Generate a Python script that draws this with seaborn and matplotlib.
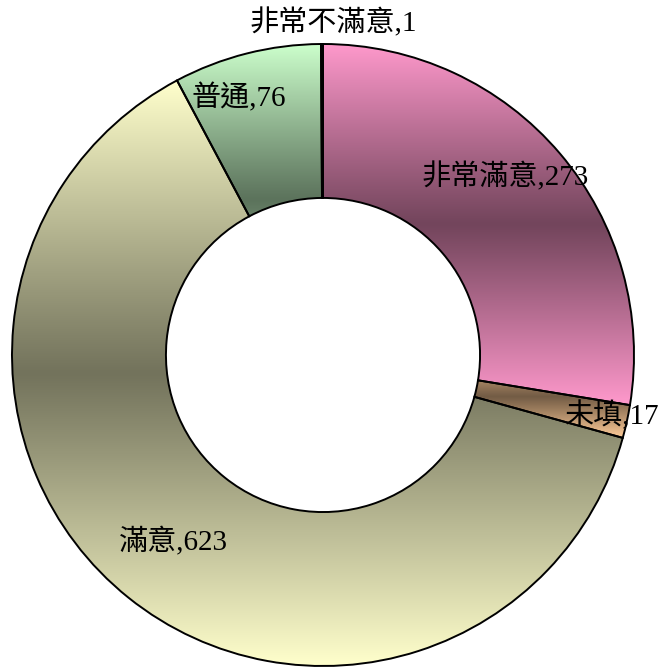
import numpy as np
import matplotlib
matplotlib.use("Agg")
import matplotlib.pyplot as plt
import seaborn as sns

# survey answers, clockwise from 12 o'clock
categories = ["非常滿意", "未填", "滿意", "普通", "非常不滿意"]
counts = [273, 17, 623, 76, 1]
base_colors = ["#ff99cc", "#ffcc99", "#ffffcc", "#ccffcc", "#ccffff"]

# where each label sits, as a fraction of the outer radius
label_radius = [0.82, 0.95, 0.77, 0.87, 1.07]
label_shift = [4.0, 0.5, 0.0, 4.0, -2.0]  # degrees, nudges along the ring

sns.set_theme(style="white")
plt.rcParams["font.family"] = ["Liberation Serif", "Noto Sans CJK TC", "DejaVu Sans"]

fig = plt.figure(figsize=(6.69, 6.68), dpi=100)
ax = fig.add_axes([0, 0, 1, 1])

wedges, _ = ax.pie(
    counts,
    colors=base_colors,
    startangle=90,
    counterclock=False,
    radius=1.0,
    wedgeprops=dict(width=0.495, edgecolor="black", linewidth=1.4),
)


def shade(hex_color, n=400, dark=0.45):
    rgb = np.array(matplotlib.colors.to_rgb(hex_color))
    t = np.linspace(0, 1, n)
    d = np.abs(2 * t - 1) ** 1.05  # 0 in the middle, 1 at the edges
    f = dark + (1 - dark) * d
    return (f[:, None] * rgb[None, :])[:, None, :]


for w, col in zip(wedges, base_colors):
    th = np.radians(np.linspace(w.theta1, w.theta2, 200))
    ys = np.concatenate([np.sin(th) * w.r, [0.0]])
    ymin, ymax = ys.min(), ys.max()
    im = ax.imshow(shade(col), extent=(-1.05, 1.05, ymin, ymax), origin="upper",
                   aspect="auto", interpolation="bilinear", zorder=1)
    im.set_clip_path(w)
    w.set_facecolor("none")
    w.set_zorder(3)

total = sum(counts)
acc = 0
for i, (cat, val) in enumerate(zip(categories, counts)):
    mid = 90 - (acc + val / 2) / total * 360 + label_shift[i]
    acc += val
    r = label_radius[i]
    ax.text(r * np.cos(np.radians(mid)), r * np.sin(np.radians(mid)), f"{cat},{val}",
            ha="center", va="center", fontsize=21, color="black", zorder=5)

R = 311.0
ax.set_xlim(-323 / R, (669 - 323) / R)
ax.set_ylim(-(668 - 355) / R, 355 / R)
ax.set_aspect("auto")
ax.axis("off")

fig.savefig("out.png", dpi=100, facecolor="white")
